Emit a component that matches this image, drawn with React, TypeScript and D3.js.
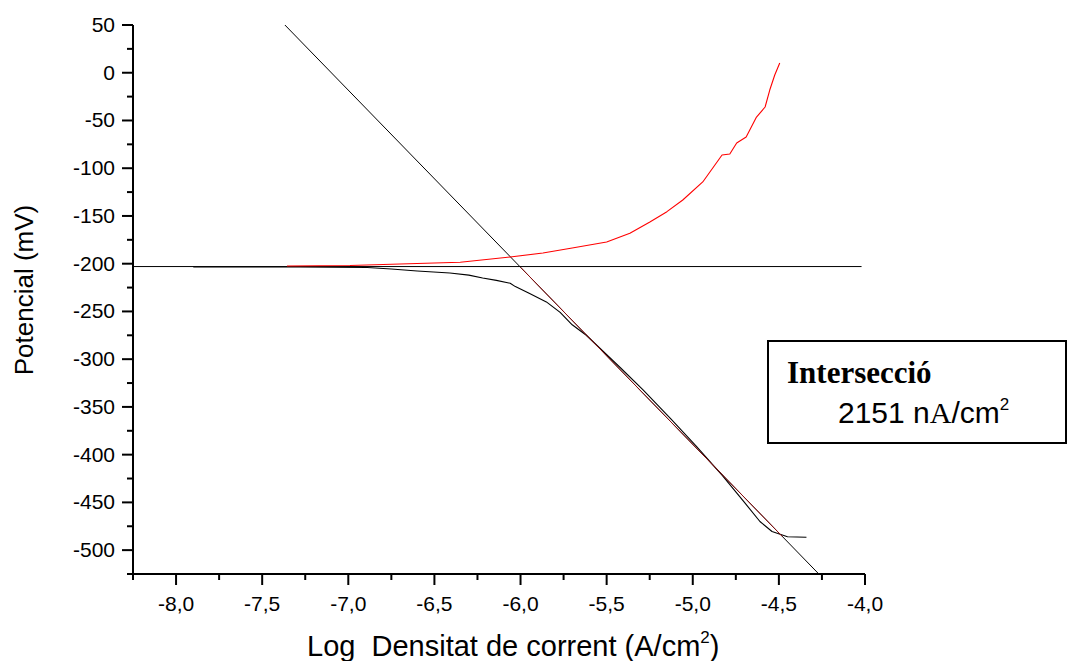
import React from "react";
import * as d3 from "d3";

// ---- data ----
const xTickValues = [-8.0, -7.5, -7.0, -6.5, -6.0, -5.5, -5.0, -4.5, -4.0];
const xMinorValues = [-8.25, -7.75, -7.25, -6.75, -6.25, -5.75, -5.25, -4.75, -4.25];
const yTickValues = [50, 0, -50, -100, -150, -200, -250, -300, -350, -400, -450, -500];
const yMinorValues = [25, -25, -75, -125, -175, -225, -275, -325, -375, -425, -475, -525];

// cathodic branch (black)
const cathX = [-7.9, -7.57, -7.28, -6.89, -6.75, -6.6, -6.41, -6.3, -6.22, -6.14, -6.06, -6.03, -5.95, -5.85, -5.77, -5.7, -5.62, -5.42, -5.29, -5.13, -4.98, -4.83, -4.7, -4.61, -4.54, -4.45, -4.34];
const cathY = [-203.5, -203.5, -203.4, -204, -205.5, -207.6, -209.7, -212, -215, -217.5, -220.5, -224, -231, -240, -251, -264, -274.7, -309, -332, -362, -391, -421.5, -450, -470, -480.5, -486, -486.5];

// anodic branch (red)
const anoX = [-7.356, -6.99, -6.7, -6.35, -6.06, -5.87, -5.7, -5.5, -5.365, -5.249, -5.15, -5.058, -4.942, -4.83, -4.785, -4.745, -4.69, -4.63, -4.58, -4.553, -4.524, -4.495];
const anoY = [-202.4, -201.9, -200.3, -198.5, -193, -188.8, -183.6, -177.3, -168.2, -156.3, -145.5, -133.3, -114.4, -86.2, -85.1, -73.6, -67.3, -46.4, -35.9, -18.1, -2.4, 10.2];

// Tafel line and corrosion potential
const tafelX = [-7.368, -4.268];
const tafelY = [50, -525];
const fitX = [-6.0, -4.48];
const ecorr = -203;
const ecorrX = [-8.25, -4.02];

const xLabel = (v: number) => v.toFixed(1).replace(".", ",");

export default function App() {
  const W = 1069, H = 661;
  const x = d3.scaleLinear().domain([-8.25, -4.0]).range([133, 865]);
  const y = d3.scaleLinear().domain([-525, 50]).range([574, 25]);

  const line = d3.line<[number, number]>().x(d => x(d[0])).y(d => y(d[1]));
  const cath = line(cathX.map((v, i) => [v, cathY[i]] as [number, number])) || "";
  const ano = line(anoX.map((v, i) => [v, anoY[i]] as [number, number])) || "";
  const tafel = line(tafelX.map((v, i) => [v, tafelY[i]] as [number, number])) || "";
  const slope = (tafelY[1] - tafelY[0]) / (tafelX[1] - tafelX[0]);
  const fit = line(fitX.map(v => [v, tafelY[0] + slope * (v - tafelX[0])] as [number, number])) || "";

  const sans = "'Liberation Sans', Arial, sans-serif";
  const serif = "'Liberation Serif', 'Times New Roman', serif";

  return (
    <svg width={W} height={H} style={{ position: "absolute", left: 0, top: 0, display: "block", background: "#fff" }}>
      <rect x={0} y={0} width={W} height={H} fill="#fff" />
      {/* ecorr horizontal line */}
      <line x1={x(ecorrX[0])} x2={x(ecorrX[1])} y1={y(ecorr)} y2={y(ecorr)} stroke="#000" strokeWidth={1} />
      {/* Tafel line */}
      <path d={tafel} fill="none" stroke="#000" strokeWidth={1} />
      {/* curves */}
      <path d={cath} fill="none" stroke="#000" strokeWidth={1.1} strokeLinejoin="round" />
      <path d={ano} fill="none" stroke="#ff0000" strokeWidth={1.1} strokeLinejoin="round" />
      <path d={fit} fill="none" stroke="#9a1010" strokeWidth={1} opacity={0.9} />

      {/* axes */}
      <line x1={133} x2={133} y1={y(50)} y2={y(-525)} stroke="#000" strokeWidth={2} />
      <line x1={132} x2={x(-4.0)} y1={574} y2={574} stroke="#000" strokeWidth={2} />
      {yTickValues.map(v => (
        <g key={"yt" + v}>
          <line x1={122} x2={133} y1={y(v)} y2={y(v)} stroke="#000" strokeWidth={2} />
          <text x={115} y={y(v) + 7} textAnchor="end" fontFamily={sans} fontSize={21} fill="#000">{v}</text>
        </g>
      ))}
      {yMinorValues.map(v => (
        <line key={"ym" + v} x1={127} x2={133} y1={y(v)} y2={y(v)} stroke="#000" strokeWidth={2} />
      ))}
      {xTickValues.map(v => (
        <g key={"xt" + v}>
          <line x1={x(v)} x2={x(v)} y1={574} y2={585} stroke="#000" strokeWidth={2} />
          <text x={x(v)} y={611} textAnchor="middle" fontFamily={sans} fontSize={21} fill="#000">{xLabel(v)}</text>
        </g>
      ))}
      {xMinorValues.map(v => (
        <line key={"xm" + v} x1={x(v)} x2={x(v)} y1={574} y2={580} stroke="#000" strokeWidth={2} />
      ))}

      {/* axis titles */}
      <text transform="translate(33,290) rotate(-90)" textAnchor="middle" fontFamily={sans} fontSize={26} fill="#000">Potencial (mV)</text>
      <text x={307} y={656} fontFamily={sans} fontSize={29} fill="#000" style={{ whiteSpace: "pre" }}>
        {"Log  Densitat de corrent (A/cm"}
        <tspan fontSize={17} dy={-13}>2</tspan>
        <tspan dy={13}>)</tspan>
      </text>

      {/* legend box */}
      <rect x={768} y={341} width={298} height={102} fill="#fff" stroke="#000" strokeWidth={2} />
      <text x={787} y={383} fontFamily={serif} fontWeight="bold" fontSize={31} fill="#000">Intersecció</text>
      <text x={838} y={423} fontFamily={sans} fontSize={30} fill="#000">
        {"2151 n"}
        <tspan fontFamily={serif}>A</tspan>
        {"/cm"}
        <tspan fontSize={17} dy={-13}>2</tspan>
      </text>
    </svg>
  );
}
